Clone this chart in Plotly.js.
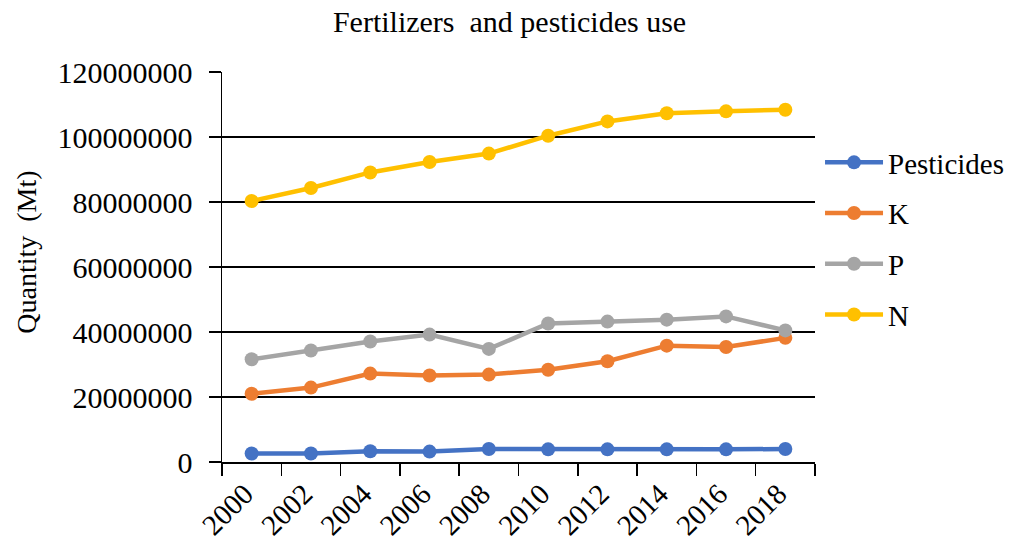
<!DOCTYPE html>
<html>
<head>
<meta charset="utf-8">
<script src="https://cdn.plot.ly/plotly-3.0.1.min.js"></script>
<style>html,body{margin:0;padding:0;background:#fff;}#chart{width:1013px;height:546px;}</style>
</head>
<body>
<div id="chart"></div>
<script>
const years = ["2000","2002","2004","2006","2008","2010","2012","2014","2016","2018"];
const pesticides = [2600000, 2600000, 3300000, 3200000, 4000000, 3900000, 3900000, 3900000, 3900000, 4000000];
const K = [21000000, 22900000, 27200000, 26600000, 26900000, 28400000, 31000000, 35800000, 35400000, 38200000];
const P = [31600000, 34300000, 37100000, 39200000, 34800000, 42600000, 43200000, 43800000, 44800000, 40500000];
const N = [80300000, 84300000, 89100000, 92300000, 94900000, 100400000, 104800000, 107300000, 107900000, 108400000];
const yTicks = [0, 20000000, 40000000, 60000000, 80000000, 100000000, 120000000];

const font = "'Liberation Serif', 'Times New Roman', serif";
function tr(name, y, color, grp) {
  return {x: years, y: y, name: name, type: 'scatter', mode: 'lines+markers',
    legendgroup: grp,
    line: {color: color, width: 4.5}, marker: {color: color, size: 14}};
}
const data = [
  tr('Pesticides', pesticides, '#4472C4', 'a'),
  tr('K', K, '#ED7D31', 'b'),
  tr('P', P, '#A5A5A5', 'c'),
  tr('N', N, '#FFC000', 'd')
];
const layout = {
  width: 1013, height: 546,
  margin: {l: 222, r: 198, t: 72, b: 83.5, pad: 0, autoexpand: false},
  paper_bgcolor: '#fff', plot_bgcolor: '#fff',
  font: {family: font, color: '#000', size: 29},
  title: {text: 'Fertilizers  and pesticides use', x: 0.503, xref: 'container', xanchor: 'center', y: 0.96, yref: 'container', yanchor: 'middle', font: {family: font, size: 30, color: '#000'}},
  xaxis: {type: 'category', range: [-0.5, 9.5], tickson: 'boundaries', ticks: 'outside', ticklen: 12, tickwidth: 1.5, tickcolor: '#000',
    showline: true, linecolor: '#000', linewidth: 1.5, showgrid: false, tickangle: -45, automargin: false,
    ticklabelshift: -7, ticklabelstandoff: 2,
    tickfont: {family: font, size: 29, color: '#000'}, zeroline: false},
  yaxis: {range: [0, 120000000], tickvals: yTicks, ticktext: yTicks.map(v => String(v)), ticks: 'outside', ticklen: 12, tickwidth: 1.5, tickcolor: '#000',
    showline: true, linecolor: '#000', linewidth: 1.5, showgrid: true, gridcolor: '#000', gridwidth: 1.5, zeroline: false,
    ticklabelstandoff: 10, automargin: false,
    tickfont: {family: font, size: 30, color: '#000'}},
  annotations: [{text: 'Quantity  (Mt)', xref: 'paper', yref: 'paper', x: -0.329, y: 0.539, xanchor: 'center', yanchor: 'middle',
    textangle: -90, showarrow: false, font: {family: font, size: 28, color: '#000'}}],
  showlegend: true,
  legend: {xref: 'container', yref: 'container', x: 0.8095, xanchor: 'left', y: 0.5632, yanchor: 'middle', traceorder: 'grouped', tracegroupgap: 10,
    font: {family: font, size: 29, color: '#000'}, itemwidth: 58, bgcolor: 'rgba(0,0,0,0)'}
};
Plotly.newPlot('chart', data, layout, {displayModeBar: false, staticPlot: true});
</script>
</body>
</html>
